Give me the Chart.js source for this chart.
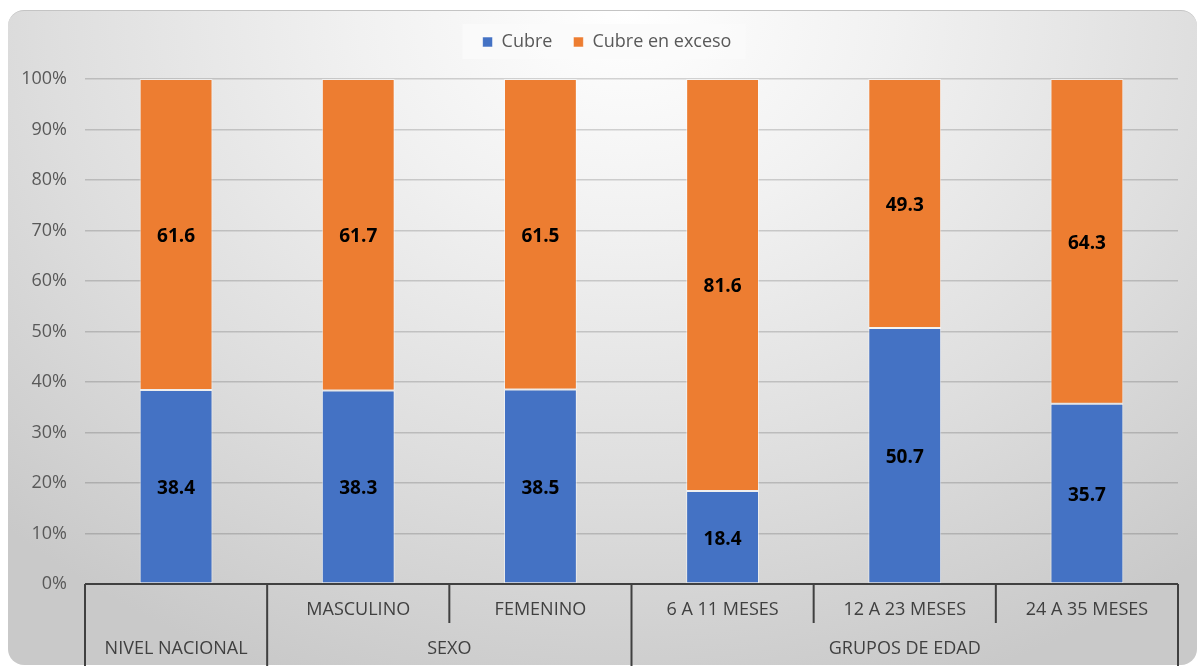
<!DOCTYPE html>
<html>
<head>
<meta charset="utf-8">
<script src="https://cdn.jsdelivr.net/npm/chart.js@4.4.0/dist/chart.umd.min.js"></script>
<style>
  html, body { margin: 0; padding: 0; background: #ffffff; width: 1197px; height: 666px; overflow: hidden; }
  #panel {
    position: absolute; left: 8px; top: 10px; width: 1189px; height: 654px;
    border-radius: 16px;
    border-top: 1px solid #c4c4c4;
    background: radial-gradient(ellipse 75% 110% at 52% 0%, #ffffff 0%, #f1f1f1 30%, #dedede 65%, #c9c9c9 100%);
  }
  #c { position: absolute; left: 0; top: 0; }
</style>
</head>
<body>
<div id="panel"></div>
<canvas id="c" width="1197" height="666"></canvas>
<script>
// ---- data ----
const categories = ['', 'MASCULINO', 'FEMENINO', '6 A 11 MESES', '12 A 23 MESES', '24 A 35 MESES'];
const groupLabels = ['NIVEL NACIONAL', 'SEXO', 'GRUPOS DE EDAD'];
const groupSpans = [1, 2, 3];
const cubre = [38.4, 38.3, 38.5, 18.4, 50.7, 35.7];
const cubreExceso = [61.6, 61.7, 61.5, 81.6, 49.3, 64.3];
const seriesNames = ['Cubre', 'Cubre en exceso'];
const yTicks = [0, 10, 20, 30, 40, 50, 60, 70, 80, 90, 100];

const FONT = '"Open Sans", "Noto Sans", sans-serif';

const legendFit = {
  id: 'legendFit',
  beforeInit(chart) {
    const orig = chart.legend.fit;
    chart.legend.fit = function () {
      orig.bind(chart.legend)();
      this.height += 18;
    };
  },
  afterLayout(chart) {
    const lg = chart.legend;
    if (lg) { lg.left += 18; lg.right += 18; }
  }
};

const legendBg = {
  id: 'legendBg',
  beforeDraw(chart) {
    const boxes = chart.legend && chart.legend.legendHitBoxes;
    if (!boxes || !boxes.length) return;
    const first = boxes[0], last = boxes[boxes.length - 1];
    const ctx = chart.ctx;
    ctx.save();
    ctx.fillStyle = 'rgba(250,250,250,0.85)';
    const x0 = first.left - 20, x1 = last.left + last.width + 14;
    const yc = first.top + first.height / 2;
    ctx.fillRect(x0, yc - 18, x1 - x0, 35);
    ctx.restore();
  }
};

const dataLabels = {
  id: 'dataLabels',
  afterDatasetsDraw(chart) {
    const ctx = chart.ctx;
    ctx.save();
    ctx.font = 'bold 19px ' + FONT;
    ctx.fillStyle = '#000000';
    ctx.textAlign = 'center';
    ctx.textBaseline = 'middle';
    chart.data.datasets.forEach((ds, di) => {
      const meta = chart.getDatasetMeta(di);
      meta.data.forEach((el, i) => {
        const v = ds.data[i];
        ctx.fillText(v.toFixed(1), el.x, (el.y + el.base) / 2 + 2);
      });
    });
    ctx.restore();
  }
};

const groupAxis = {
  id: 'groupAxis',
  afterDraw(chart) {
    const x = chart.scales.x;
    const ctx = chart.ctx;
    const n = categories.length;
    const half = (x.getPixelForValue(1) - x.getPixelForValue(0)) / 2;
    const edge = i => x.getPixelForValue(i) - half;
    const y0 = chart.chartArea.bottom;
    const yMid = y0 + 39;
    const yEnd = chart.height;
    ctx.save();
    ctx.strokeStyle = '#404040';
    ctx.lineWidth = 2;
    ctx.beginPath();
    ctx.moveTo(edge(0), y0);
    ctx.lineTo(edge(n), y0);
    let idx = 0;
    const groupEdges = [0];
    groupSpans.forEach(s => { idx += s; groupEdges.push(idx); });
    for (let i = 0; i <= n; i++) {
      const full = groupEdges.includes(i);
      ctx.moveTo(edge(i), y0);
      ctx.lineTo(edge(i), full ? yEnd : yMid);
    }
    ctx.stroke();
    ctx.fillStyle = '#404040';
    ctx.font = '18px ' + FONT;
    ctx.textAlign = 'center';
    ctx.textBaseline = 'middle';
    categories.forEach((c, i) => {
      if (c) ctx.fillText(c, x.getPixelForValue(i), y0 + 26);
    });
    groupLabels.forEach((g, k) => {
      const a = edge(groupEdges[k]), b = edge(groupEdges[k + 1]);
      ctx.fillText(g, (a + b) / 2, y0 + 65);
    });
    ctx.restore();
  }
};

new Chart(document.getElementById('c'), {
  type: 'bar',
  data: {
    labels: categories,
    datasets: [
      { label: seriesNames[0], data: cubre, backgroundColor: '#4472C4', borderColor: 'rgba(255,255,255,0.55)', borderWidth: 1, borderSkipped: false, barPercentage: 0.8, categoryPercentage: 0.5 },
      { label: seriesNames[1], data: cubreExceso, backgroundColor: '#ED7D31', borderColor: 'rgba(255,255,255,0.55)', borderWidth: 1, borderSkipped: false, barPercentage: 0.8, categoryPercentage: 0.5 }
    ]
  },
  options: {
    responsive: false,
    animation: false,
    devicePixelRatio: 1,
    layout: { padding: { top: 12, left: 0, right: 19, bottom: 0 } },
    plugins: {
      legend: {
        position: 'top',
        labels: {
          boxWidth: 10, boxHeight: 10, padding: 21,
          color: '#595959',
          font: { family: FONT, size: 18 }
        }
      },
      tooltip: { enabled: false }
    },
    scales: {
      x: {
        stacked: true,
        grid: { display: false },
        border: { display: false },
        ticks: { display: false },
        afterFit(scale) { scale.height = 82; }
      },
      y: {
        stacked: true,
        min: 0, max: 100,
        afterBuildTicks(scale) { scale.ticks = yTicks.map(v => ({ value: v })); },
        ticks: {
          stepSize: 10,
          padding: 18,
          color: '#595959',
          font: { family: FONT, size: 18 },
          callback: v => v + '%'
        },
        grid: { color: 'rgba(0,0,0,0.16)', lineWidth: 1.5, drawTicks: false },
        border: { display: false },
        afterFit(scale) { scale.width = 85; }
      }
    }
  },
  plugins: [legendFit, legendBg, dataLabels, groupAxis]
});
</script>
</body>
</html>
